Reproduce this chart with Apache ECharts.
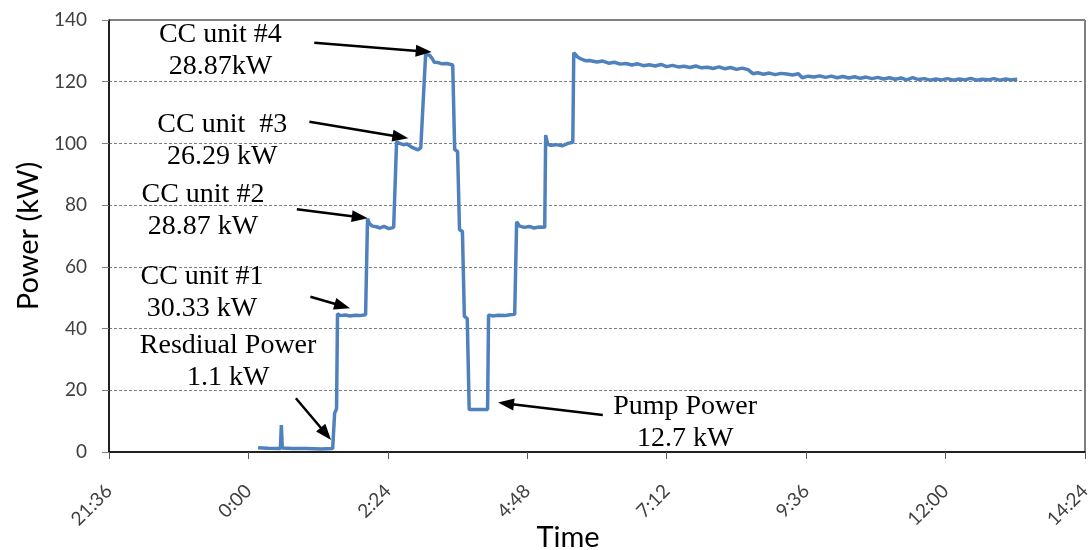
<!DOCTYPE html>
<html>
<head>
<meta charset="utf-8">
<script src="https://cdn.jsdelivr.net/npm/echarts@6/dist/echarts.min.js"></script>
<style>
html,body{margin:0;padding:0;background:#fff;}
#chart{width:1091px;height:550px;}
</style>
</head>
<body>
<div id="chart"></div>
<script>
// ---- data (clock time, kW) ----
var times = ["0:10","0:20","0:33","0:34","0:35","0:45","1:00","1:15","1:27","1:29","1:31","1:32","1:35","1:40","1:45","1:50","1:55","2:01",
"2:03","2:05","2:08","2:12","2:16","2:20","2:25","2:30","2:31",
"2:33","2:36","2:40","2:44","2:48","2:52","2:55","2:58","3:00",
"3:03","3:05","3:07","3:10","3:12","3:16","3:20","3:25","3:31",
"3:33","3:36","3:38","3:41","3:43","3:46","3:48","4:00","4:07",
"4:08","4:12","4:18","4:25","4:30","4:35",
"4:37","4:40","4:45","4:50","4:55","5:00","5:06",
"5:07","5:09","5:12","5:18","5:24","5:30","5:35",
"5:36","5:40","5:44","5:48","5:52",
"6:00","6:06","6:12","6:18","6:24","6:30","6:36","6:42","6:48","6:54","7:00","7:06","7:12","7:18","7:24","7:30","7:36","7:42","7:48","7:54",
"8:00","8:06","8:12","8:18","8:24","8:30","8:36","8:41","8:46","8:52","8:58","9:04","9:10","9:16","9:22","9:28","9:32","9:38","9:44","9:50","9:56",
"10:02","10:08","10:14","10:20","10:26","10:32","10:38","10:44","10:50","10:56","11:02","11:08","11:14","11:20","11:26","11:32","11:38","11:44","11:50","11:56",
"12:02","12:08","12:14","12:20","12:26","12:32","12:38","12:44","12:50","12:56","13:02","13:08","13:14"];
var power = [1.4,1.2,1.1,8.7,1.3,1.1,1.1,1.0,1.1,12.5,14.0,44.8,44.2,44.4,44.1,44.3,44.2,44.5,
75.6,74.0,73.2,73.0,72.6,73.1,72.4,72.8,73.0,
100.5,100.0,99.6,99.8,98.9,98.3,97.9,98.6,98.2,
128.8,129.4,128.6,127.4,126.3,126.2,125.8,125.9,125.4,
98.0,97.4,72.0,71.5,44.0,43.2,13.8,13.8,13.8,
44.4,44.1,44.3,44.2,44.5,44.6,
74.6,73.2,72.8,73.1,72.6,72.9,72.8,
102.7,99.8,99.4,99.6,99.2,100.0,100.4,
129.4,128.0,127.3,126.8,126.9,
126.4,126.7,126.0,126.3,125.7,125.9,125.4,125.8,125.2,125.5,125.1,125.6,124.9,125.3,124.8,125.0,124.6,125.1,124.5,124.7,
124.3,124.8,124.2,124.6,124.0,124.4,123.9,122.6,122.9,122.4,122.8,122.3,122.7,122.5,122.2,122.6,121.3,121.8,121.5,121.9,121.4,
121.8,121.3,121.7,121.2,121.6,121.1,121.5,121.0,121.4,120.9,121.3,120.8,121.2,120.6,121.3,120.7,121.0,120.5,120.9,120.6,
121.0,120.5,120.9,120.6,121.1,120.5,120.8,120.6,121.0,120.5,120.9,120.6,120.8];

// x-axis tick labels (every 2:24)
var xTickLabels = ["21:36","0:00","2:24","4:48","7:12","9:36","12:00","14:24"];

// annotations: text, text anchor (time, kW), arrow start (time, kW), arrow head (time, kW)
var annText = ["CC unit #4\n28.87kW","CC unit  #3\n26.29 kW","CC unit #2\n28.87 kW","CC unit #1\n30.33 kW","Resdiual Power\n1.1 kW","Pump Power\n12.7 kW"];
var annTextAt = [["23:31",130.0],["23:33",100.8],["23:13",78.1],["23:12",51.5],["23:39",29.3],["7:31",9.4]];
var annFrom = [["1:08",132.6],["1:03",107.0],["0:50",78.7],["1:04",50.3],["0:49",17.4],["6:06",12.0]];
var annTo = [["3:01",129.8],["2:37",102.1],["1:55",76.1],["1:37",47.3],["1:20",5.9],["4:26",15.7]];

// ---- helpers ----
function toMin(s){ var p=s.split(':'); var h=+p[0], m=+p[1]; var t=h*60+m; if(h<21) t+=1440; return t; }
var X_MIN = toMin(xTickLabels[0]), X_MAX = toMin(xTickLabels[xTickLabels.length-1]), X_INT = 144;
function fmt(v){ var i=Math.round((v-X_MIN)/X_INT); return xTickLabels[i]!==undefined?xTickLabels[i]:''; }

var seriesData = times.map(function(t,i){ return [toMin(t), power[i]]; });
var mpData = annText.map(function(txt,i){
  return {coord:[toMin(annTextAt[i][0]), annTextAt[i][1]], value: txt};
});
var mlData = annFrom.map(function(f,i){
  return [{coord:[toMin(f[0]), f[1]]},{coord:[toMin(annTo[i][0]), annTo[i][1]]}];
});

var chart = echarts.init(document.getElementById('chart'), null, {renderer:'canvas'});
chart.setOption({
  animation:false,
  backgroundColor:'#fff',
  grid:{left:109,right:6,top:20,bottom:98,containLabel:false,outerBoundsMode:'none',
        show:true,borderColor:'#000',borderWidth:1,backgroundColor:'transparent'},
  xAxis:{
    type:'value', min:X_MIN, max:X_MAX, interval:X_INT,
    name:'Time', nameLocation:'middle', nameGap:71, nameMoveOverlap:false,
    nameTextStyle:{fontFamily:'Lato',fontSize:29,color:'#000',padding:[0,58,0,0]},
    axisLine:{show:true,onZero:false,lineStyle:{color:'#000',width:1.5}},
    axisTick:{show:true,length:7,lineStyle:{color:'#595959'}},
    axisLabel:{rotate:45,margin:36,fontFamily:'Lato',fontSize:19,color:'#404040',formatter:fmt},
    splitLine:{show:false}
  },
  yAxis:{
    type:'value', min:0, max:140, interval:20,
    name:'Power (kW)', nameLocation:'middle', nameGap:66, nameMoveOverlap:false,
    nameTextStyle:{fontFamily:'Lato',fontSize:29,color:'#000'},
    axisLine:{show:true,lineStyle:{color:'#000',width:1.5}},
    axisTick:{show:true,length:7,lineStyle:{color:'#808080'}},
    axisLabel:{margin:22,fontFamily:'Lato',fontSize:19,color:'#404040'},
    splitLine:{show:true,lineStyle:{color:'#808080',type:[3,2],width:1}}
  },
  series:[{
    type:'line', data:seriesData, showSymbol:false, symbol:'none',
    lineStyle:{color:'#4f81bd',width:3.5},
    silent:true,
    markPoint:{
      silent:true, symbol:'circle', symbolSize:0,
      label:{show:true, position:'inside', formatter:function(p){return p.value;},
        fontFamily:'Liberation Serif', fontSize:28, lineHeight:32, color:'#000', align:'center', verticalAlign:'middle'},
      data:mpData
    },
    markLine:{
      silent:true, symbol:['none','triangle'], symbolSize:[12,16],
      label:{show:false},
      lineStyle:{color:'#000',width:2.5,type:'solid'},
      emphasis:{disabled:true},
      data:mlData
    }
  }]
});
</script>
</body>
</html>
